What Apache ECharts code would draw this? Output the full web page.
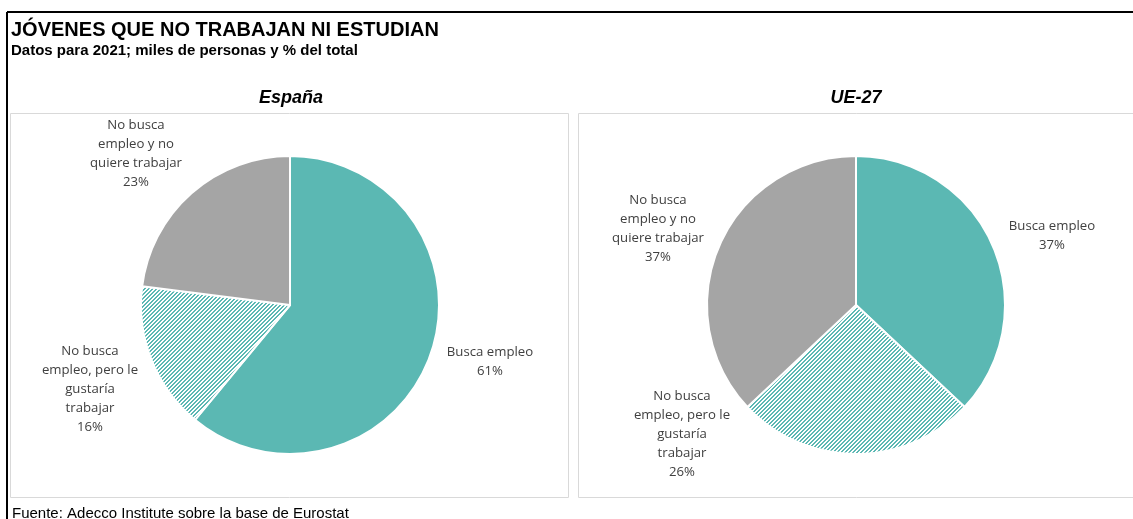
<!DOCTYPE html>
<html>
<head>
<meta charset="utf-8">
<script src="https://cdn.jsdelivr.net/npm/echarts@6/dist/echarts.min.js"></script>
<style>
html,body{margin:0;padding:0;background:#fff;}
#c{width:1133px;height:519px;}
</style>
</head>
<body>
<div id="c"></div>
<script>
var categories = ['Busca empleo', 'No busca\nempleo, pero le\ngustaría\ntrabajar', 'No busca\nempleo y no\nquiere trabajar'];
var espana = [61, 16, 23];
var ue27 = [37, 26, 37];
var panelTitles = ['España', 'UE-27'];

var TEAL = '#5BB8B3', GRAY = '#A5A5A5';
function hatch() {
  var c = document.createElement('canvas');
  c.width = 4; c.height = 4;
  var ctx = c.getContext('2d');
  var img = ctx.createImageData(4, 4);
  for (var y = 0; y < 4; y++) for (var x = 0; x < 4; x++) {
    var i = (y * 4 + x) * 4;
    var on = ((x + y) % 4) < 2;
    img.data[i] = on ? 0x5B : 255;
    img.data[i + 1] = on ? 0xB8 : 255;
    img.data[i + 2] = on ? 0xB3 : 255;
    img.data[i + 3] = 255;
  }
  ctx.putImageData(img, 0, 0);
  return c;
}
var pat = { image: hatch(), repeat: 'repeat' };
var colors = [TEAL, pat, GRAY];

function buildData(vals) {
  return vals.map(function (v, i) {
    return { name: categories[i], value: v, itemStyle: { color: colors[i] } };
  });
}

var labelPos = [
  [[490, 362], [90, 389], [136, 154]],
  [[1052, 236], [682, 434], [658, 229]]
];

var chart = echarts.init(document.getElementById('c'));
function pieSeries(vals, center, k) {
  return {
    type: 'pie',
    center: center,
    radius: 149,
    startAngle: 90,
    clockwise: true,
    animation: false,
    silent: true,
    data: buildData(vals),
    itemStyle: { borderColor: '#fff', borderWidth: 2 },
    label: {
      show: true,
      position: 'outside',
      overflow: 'none',
      formatter: function (p) { return p.name + '\n' + p.value + '%'; },
      fontFamily: 'Open Sans',
      fontSize: 13.2,
      lineHeight: 19,
      color: '#404040',
      align: 'center'
    },
    labelLine: { show: false },
    labelLayout: function (p) {
      var pos = labelPos[k][p.dataIndex];
      return { x: pos[0], y: pos[1], align: 'center', verticalAlign: 'middle', width: 200 };
    }
  };
}

chart.setOption({
  animation: false,
  title: [
    { text: 'JÓVENES QUE NO TRABAJAN NI ESTUDIAN', left: 11, top: 20, padding: 0,
      textStyle: { fontFamily: 'Liberation Sans', fontSize: 20, fontWeight: 'bold', color: '#000' } },
    { text: 'Datos para 2021; miles de personas y % del total', left: 11, top: 43, padding: 0,
      textStyle: { fontFamily: 'Liberation Sans', fontSize: 15, fontWeight: 'bold', color: '#000' } },
    { text: panelTitles[0], left: 291, top: 89, padding: 0, textAlign: 'center',
      textStyle: { fontFamily: 'Liberation Sans', fontSize: 18, fontWeight: 'bold', fontStyle: 'italic', color: '#000' } },
    { text: panelTitles[1], left: 856, top: 89, padding: 0, textAlign: 'center',
      textStyle: { fontFamily: 'Liberation Sans', fontSize: 18, fontWeight: 'bold', fontStyle: 'italic', color: '#000' } },
    { text: 'Fuente: Adecco Institute sobre la base de Eurostat', left: 12, top: 506, padding: 0,
      textStyle: { fontFamily: 'Liberation Sans', fontSize: 15, fontWeight: 'normal', color: '#000' } }
  ],
  graphic: [
    { type: 'line', shape: { x1: 7, y1: 12, x2: 1133, y2: 12 }, style: { stroke: '#000', lineWidth: 2 }, z: 10 },
    { type: 'line', shape: { x1: 7, y1: 12, x2: 7, y2: 519 }, style: { stroke: '#000', lineWidth: 2 }, z: 10 },
    { type: 'rect', shape: { x: 10.5, y: 113.5, width: 558, height: 384 }, style: { fill: 'none', stroke: '#d9d9d9', lineWidth: 1 }, z: -1 },
    { type: 'rect', shape: { x: 578.5, y: 113.5, width: 560, height: 384 }, style: { fill: 'none', stroke: '#d9d9d9', lineWidth: 1 }, z: -1 }
  ],
  series: [
    pieSeries(espana, [290, 305], 0),
    pieSeries(ue27, [856, 305], 1)
  ]
});
</script>
</body>
</html>
